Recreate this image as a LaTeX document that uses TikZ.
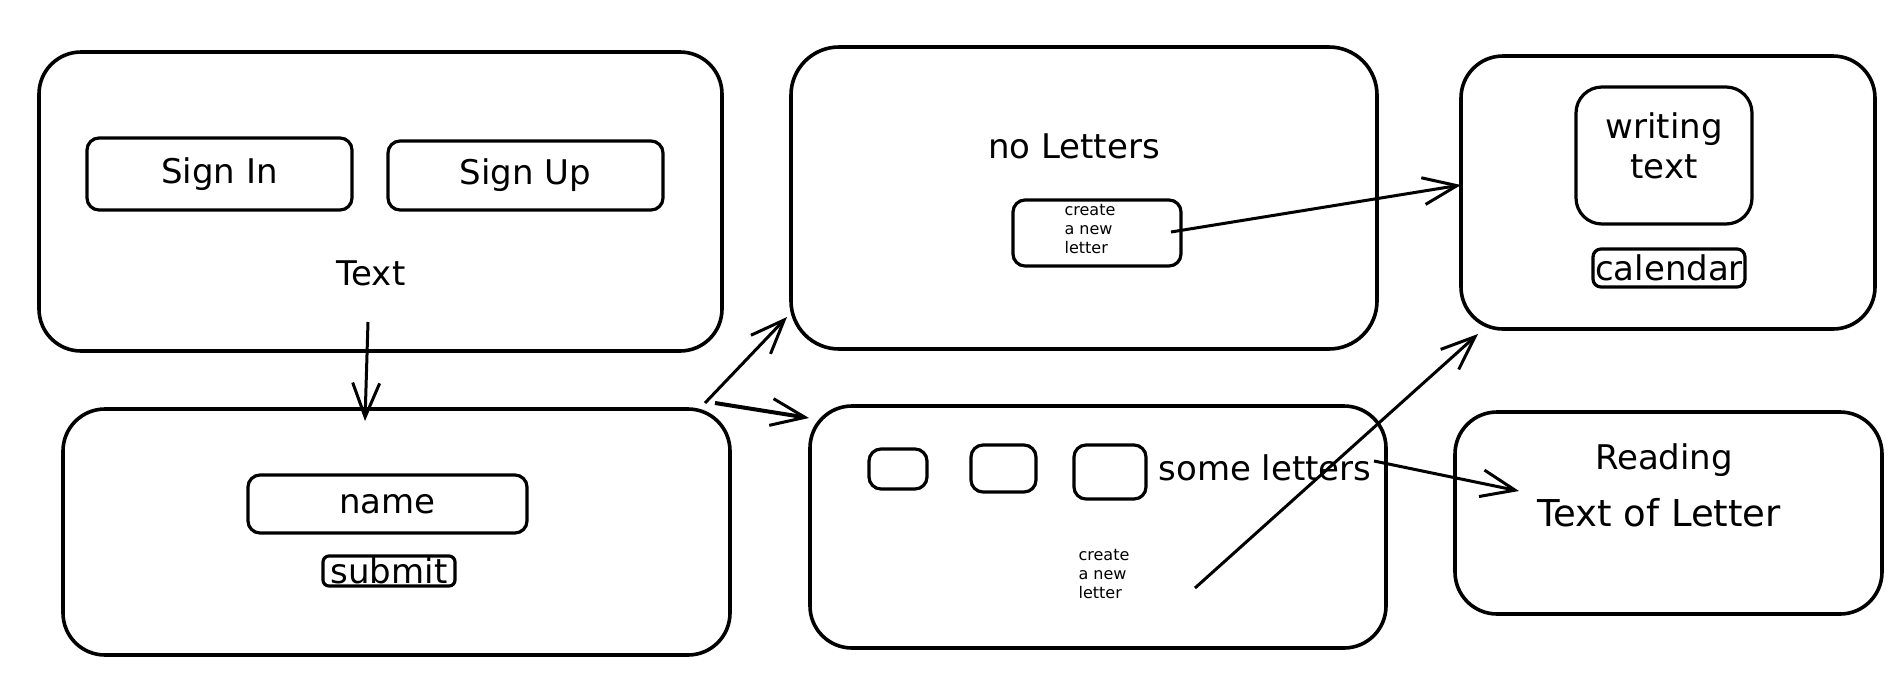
\documentclass[tikz,border=0pt]{standalone}
\usepackage{fontspec}
\setmainfont{DejaVu Sans}
\usetikzlibrary{arrows.meta}
\tikzset{
  frame/.style={draw, line width=3.6pt, rounded corners=42pt, inner sep=0pt},
  btn/.style={draw, line width=3.2pt, rounded corners=12pt, inner sep=0pt},
  lbl/.style={font=\fontsize{34}{40}\selectfont, inner sep=0pt, align=center},
  tinytxt/.style={font=\fontsize{16}{19}\selectfont, align=left, inner sep=0pt},
  conn/.style={line width=3pt, -{Straight Barb[length=34pt,width=27pt,line width=3pt]}},
}
\begin{document}
\begin{tikzpicture}[x=1pt,y=-1pt]
\useasboundingbox[fill=white] (0,0) rectangle (1896,678);

% Box A: sign in / sign up
\node[frame, minimum width=683pt, minimum height=299pt] (A) at (380.5,201.5) {};
\node[btn, minimum width=265pt, minimum height=72pt, lbl] (signin) at (219.5,174) {Sign In};
\node[btn, minimum width=275pt, minimum height=69pt, lbl] (signup) at (525.5,175.5) {Sign Up};
\node[lbl] (textA) at (371,273) {Text};

% Box B: name / submit
\node[frame, minimum width=667pt, minimum height=246pt] (B) at (396.5,532) {};
\node[btn, minimum width=279pt, minimum height=58pt, lbl] (name) at (387.5,504) {name};
\node[btn, rounded corners=6pt, minimum width=132pt, minimum height=30pt, lbl] (submit) at (389,571) {submit};

% Box C: no letters
\node[frame, rounded corners=48pt, minimum width=586pt, minimum height=302pt] (C) at (1084,198) {};
\node[lbl] (noletters) at (1074,146) {no Letters};
\node[btn, minimum width=168pt, minimum height=66pt] (createC) at (1097,233) {};
\node[tinytxt] (createCtxt) at (1090,229) {create\\a new\\letter};

% Box D: some letters
\node[frame, minimum width=576pt, minimum height=242pt] (D) at (1098,527) {};
\node[btn, minimum width=58pt, minimum height=40pt] (s1) at (898,469) {};
\node[btn, minimum width=65pt, minimum height=47pt] (s2) at (1003.5,468.5) {};
\node[btn, minimum width=72pt, minimum height=54pt] (s3) at (1110,472) {};
\node[lbl] (someletters) at (1265,468) {some letters};
\node[tinytxt] (createD) at (1104,574) {create\\a new\\letter};

% Box E: writing
\node[frame, minimum width=414pt, minimum height=273pt] (E) at (1668,192.5) {};
\node[btn, rounded corners=26pt, minimum width=176pt, minimum height=137pt] (writing) at (1664,155.5) {};
\node[lbl] (writingtxt) at (1664,146) {writing\\text};
\node[btn, rounded corners=8pt, minimum width=152pt, minimum height=38pt, lbl] (calendar) at (1669,268) {calendar};

% Box F: reading
\node[frame, minimum width=427pt, minimum height=202pt] (F) at (1668.5,513) {};
\node[lbl] (reading) at (1664,460) {Reading};
\node[lbl, font=\fontsize{37}{44}\selectfont] (textofletter) at (1659,513) {Text of Letter};

% connector end points
\coordinate (a1) at (368,322);
\coordinate (b1) at (365,421);
\coordinate (b2) at (705,403);
\coordinate (c2) at (787,317);
\coordinate (b3) at (715,403);
\coordinate (d3) at (809,418);
\coordinate (c4) at (1171,232);
\coordinate (e4) at (1461,185);
\coordinate (d5) at (1195,588);
\coordinate (e5) at (1478,334);
\coordinate (d6) at (1374,461);
\coordinate (f6) at (1519,491);

\draw[conn] (a1) -- (b1);
\draw[conn] (b2) -- (c2);
\draw[conn, line width=4pt] (b3) -- (d3);
\draw[conn] (c4) -- (e4);
\draw[conn] (d5) -- (e5);
\draw[conn] (d6) -- (f6);
\end{tikzpicture}
\end{document}
